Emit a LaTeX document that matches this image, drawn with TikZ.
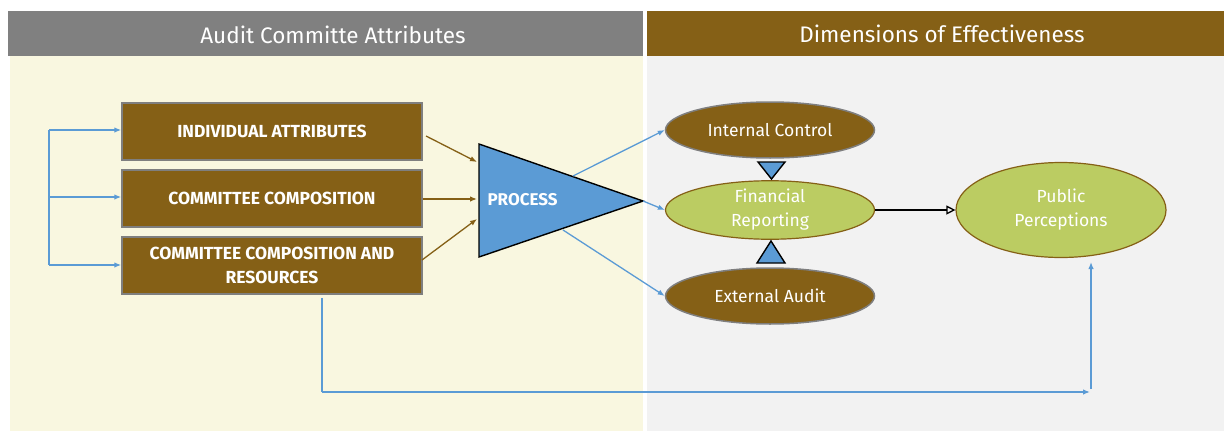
\documentclass[tikz,border=0pt]{standalone}
\usepackage{fontspec}
\setmainfont{Fira Sans}
\usetikzlibrary{arrows.meta,shapes.geometric}
\definecolor{brownfill}{RGB}{133,96,22}
\definecolor{headgray}{RGB}{128,128,128}
\definecolor{cream}{RGB}{249,247,224}
\definecolor{lightbg}{RGB}{242,242,242}
\definecolor{olive}{RGB}{187,204,98}
\definecolor{bluefill}{RGB}{91,155,213}
\definecolor{edgegray}{RGB}{127,127,127}
\tikzset{
  header/.style={font=\fontsize{22.5}{24}\selectfont, text=white},
  attrbox/.style={draw=edgegray, line width=1.5pt, fill=brownfill, text=white,
    minimum width=300pt, minimum height=57pt, inner sep=2pt, align=center,
    font=\fontsize{17.5}{24}\selectfont\bfseries},
  darkell/.style={ellipse, draw=edgegray, line width=1.5pt, fill=brownfill, text=white,
    minimum width=209pt, minimum height=56pt, inner sep=0pt, font=\fontsize{17.5}{24}\selectfont},
  greenell/.style={ellipse, draw=brownfill, line width=1.2pt, fill=olive, text=white,
    inner sep=0pt, align=center, font=\fontsize{17.5}{24}\selectfont},
  bluearrow/.style={draw=bluefill, line width=1.3pt, -{Latex[length=7pt,width=5.5pt]}},
  brownarrow/.style={draw=brownfill, line width=1.3pt, -{Latex[length=7pt,width=5.5pt]}},
  pointer/.style={draw=black, line width=1.4pt, fill=bluefill, line join=miter},
}
\begin{document}
\begin{tikzpicture}[x=1pt,y=-1pt]
\useasboundingbox (0,0) rectangle (1224,431);
% panels
\fill[white] (0,0) rectangle (1224,431);
\fill[cream] (10,56) rectangle (643,431);
\fill[lightbg] (647,56) rectangle (1224,431);
\fill[headgray] (8,11) rectangle (643,56);
\fill[brownfill] (647,11) rectangle (1224,56);
\node[header] (hleft) at (333,35) {Audit Committe Attributes};
\node[header] (hright) at (942,34) {Dimensions of Effectiveness};

% attribute boxes
\node[attrbox] (ind) at (272,131.5) {INDIVIDUAL ATTRIBUTES};
\node[attrbox] (comp) at (272,198.5) {COMMITTEE COMPOSITION};
\node[attrbox] (res) at (272,265.5) {COMMITTEE COMPOSITION AND\\RESOURCES};

% feedback bracket on the left
\coordinate (bt) at (49,130);
\coordinate (bm) at (49,197);
\coordinate (bb) at (49,265);
\draw[draw=bluefill, line width=1.3pt] (bt) -- (bb);
\draw[bluearrow] (bt) -- (ind.west |- bt);
\draw[bluearrow] (bm) -- (comp.west |- bm);
\draw[bluearrow] (bb) -- (res.west |- bb);

% process triangle
\coordinate (pa) at (479,144);
\coordinate (pb) at (479,257);
\coordinate (pc) at (643,201);
\draw[pointer] (pa) -- (pc) -- (pb) -- cycle;
\node[text=white, font=\fontsize{17}{20}\selectfont\bfseries, anchor=west] (proc) at (484,200) {PROCESS};
\coordinate (pin1) at (477,162);
\coordinate (pin2) at (477,199);
\coordinate (pin3) at (477,219);
\coordinate (pout1) at (573,176);
\coordinate (pout3) at (563,230);

\draw[brownarrow] (426,136) -- (pin1);
\draw[brownarrow] (comp.east |- pin2) -- (pin2);
\draw[brownarrow] (422,260) -- (pin3);

% dimensions
\node[darkell] (ic) at (770,130) {Internal Control};
\node[greenell, minimum width=209pt, minimum height=56pt] (fr) at (770,210) {Financial\\Reporting};
\node[darkell] (ea) at (770,296) {External Audit};
\node[greenell, minimum width=210pt, minimum height=95pt] (pp) at (1061,210) {Public\\Perceptions};

\draw[bluearrow] (pout1) -- (ic.west);
\draw[bluearrow] (pc) -- (fr.west);
\draw[bluearrow] (pout3) -- (ea.west);

% small pointers between the ellipses
\draw[pointer] (758,162) -- (785,162) -- (771.5,179) -- cycle;
\draw[pointer] (757,263) -- (785,263) -- (771,241) -- cycle;

\draw[draw=black, line width=1.3pt, -{Triangle[open,length=9pt,width=9pt]}] (fr.east) -- (pp.west);

% long link from resources to perceptions
\coordinate (lc) at (322,392);
\coordinate (le) at (1090,392);
\coordinate (ls) at (1091,389);
\draw[bluearrow, -] (res.south -| lc) ++(0,3) -- (lc);
\draw[bluearrow] (lc) -- (le);
\draw[bluearrow] (ls) -- (1091,262);
\end{tikzpicture}
\end{document}
